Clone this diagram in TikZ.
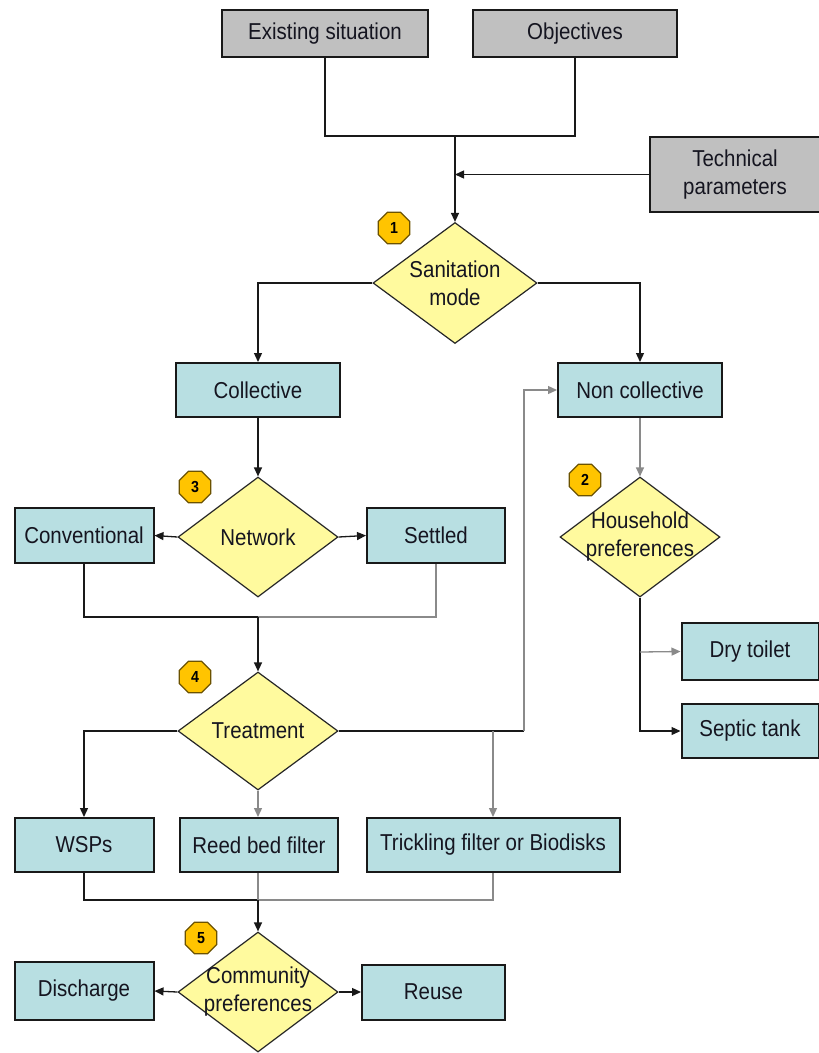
\documentclass[tikz,border=0pt]{standalone}
\usepackage{fontspec}
\setmainfont{Liberation Sans}[FakeStretch=0.89]
\usetikzlibrary{shapes.geometric,arrows.meta,calc}
\definecolor{boxgray}{HTML}{C0C0C0}
\definecolor{boxcyan}{HTML}{B8DFE2}
\definecolor{diayel}{HTML}{FFFA9E}
\definecolor{badgefill}{HTML}{FFC400}
\definecolor{badgeline}{HTML}{6B5200}
\definecolor{lightline}{HTML}{8A8A8A}
\definecolor{txt}{HTML}{151520}
\tikzset{
  base/.style={font=\fontsize{23}{28}\selectfont, text=txt},
  graybox/.style={base, rectangle, draw=black!90, line width=2pt, fill=boxgray, inner sep=0pt, align=center},
  cyanbox/.style={base, rectangle, draw=black!90, line width=2pt, fill=boxcyan, inner sep=0pt, align=center},
  dia/.style={diamond, draw=black!85, line width=1.2pt, fill=diayel, inner sep=0pt},
  dtext/.style={base, align=center, inner sep=0pt},
  badge/.style={regular polygon, regular polygon sides=8, draw=badgeline, line width=1.3pt, fill=badgefill, minimum size=34pt, inner sep=0pt, font=\fontsize{16}{16}\selectfont\bfseries, text=black},
  conn/.style={line width=1.3pt, draw=black!90},
  lconn/.style={line width=1.3pt, draw=lightline},
  arr/.style={-{Triangle[length=9pt,width=8pt]}}
}
\begin{document}
\begin{tikzpicture}[x=1pt,y=-1pt]
\useasboundingbox (0,0) rectangle (819,1053);
% boxes
\node[graybox, minimum width=206pt, minimum height=47pt] (ex) at (325,33.5) {Existing situation};
\node[graybox, minimum width=204pt, minimum height=47pt] (obj) at (575,33.5) {Objectives};
\node[graybox, minimum width=170pt, minimum height=75pt] (tech) at (735,174.5) {Technical\\parameters};
\node[cyanbox, minimum width=164pt, minimum height=54pt] (coll) at (258,390) {Collective};
\node[cyanbox, minimum width=164pt, minimum height=54pt] (nonc) at (640,390) {Non collective};
\node[cyanbox, minimum width=139pt, minimum height=55pt] (conv) at (84,535.5) {Conventional};
\node[cyanbox, minimum width=138pt, minimum height=55pt] (sett) at (436,535.5) {Settled};
\node[cyanbox, minimum width=137pt, minimum height=57pt] (dry) at (750,651.5) {Dry toilet};
\node[cyanbox, minimum width=137pt, minimum height=54pt] (sep) at (750,731) {Septic tank};
\node[cyanbox, minimum width=139pt, minimum height=54pt] (wsp) at (84,845) {WSPs};
\node[cyanbox, minimum width=158pt, minimum height=54pt] (reed) at (259,845) {Reed bed filter};
\node[cyanbox, minimum width=253pt, minimum height=54pt] (trick) at (493,845) {Trickling filter or Biodisks};
\node[cyanbox, minimum width=139pt, minimum height=58pt] (dis) at (84,991) {Discharge};
\node[cyanbox, minimum width=143pt, minimum height=55pt] (reuse) at (433.5,992) {Reuse};
% diamonds
\node[dia, minimum width=164pt, minimum height=121pt] (san) at (455,283) {};
\node[dtext] at (san) {Sanitation\\mode};
\node[dia, minimum width=160pt, minimum height=120pt] (net) at (258,537) {};
\node[dtext] at (net) {Network};
\node[dia, minimum width=160pt, minimum height=120pt] (hh) at (640,537) {};
\node[dtext] at (hh) {Household\\preferences};
\node[dia, minimum width=160pt, minimum height=118pt] (trt) at (258,731) {};
\node[dtext] at (trt) {Treatment};
\node[dia, minimum width=160pt, minimum height=120pt] (com) at (258,992) {};
\node[dtext] at (com) {Community\\preferences};
% badges
\node[badge] (b1) at (394,228) {1};
\node[badge] (b2) at (585,480) {2};
\node[badge] (b3) at (195,487) {3};
\node[badge] (b4) at (195,677) {4};
\node[badge] (b5) at (201,938) {5};
% junctions
\coordinate (j1) at (455,136);
\coordinate (j3) at (258,617);
\coordinate (j4) at (258,900);
\coordinate (jr) at (524,731);
\coordinate (jt) at (493,731);
\coordinate (jd) at (640,652);
% connectors
\draw[conn] (ex.south) |- (j1);
\draw[conn] (obj.south) |- (j1);
\draw[conn,arr] (j1) -- (san.north);
\draw[conn,arr] (tech.west) -- (tech.west -| j1);
\draw[conn,arr] (san.west) -| (coll.north);
\draw[conn,arr] (san.east) -| (nonc.north);
\draw[conn,arr] (coll.south) -- (net.north);
\draw[conn,arr] (net.west) -- (conv.east);
\draw[conn,arr] (net.east) -- (sett.west);
\draw[conn] (conv.south) |- (j3);
\draw[lconn] (sett.south) |- (j3);
\draw[conn,arr] (j3) -- (trt.north);
\draw[conn,arr] (trt.west) -| (wsp.north);
\draw[lconn,arr] (trt.south) -- (trt.south |- reed.north);
\draw[conn] (trt.east) -- (jr);
\draw[lconn,arr] (jr) |- (nonc.west);
\draw[lconn,arr] (jt) -- (jt |- trick.north);
\draw[conn] (wsp.south) |- (j4);
\draw[lconn] (trick.south) |- (j4);
\draw[lconn] (j4 |- reed.south) -- (j4);
\draw[conn,arr] (j4) -- (com.north);
\draw[conn,arr] (com.west) -- (dis.east);
\draw[conn,arr] (com.east) -- (reuse.west);
\draw[lconn,arr] (nonc.south) -- (hh.north);
\draw[conn,arr] (hh.south) |- (sep.west);
\draw[lconn,arr] (jd) -- (dry.west);
\end{tikzpicture}
\end{document}
